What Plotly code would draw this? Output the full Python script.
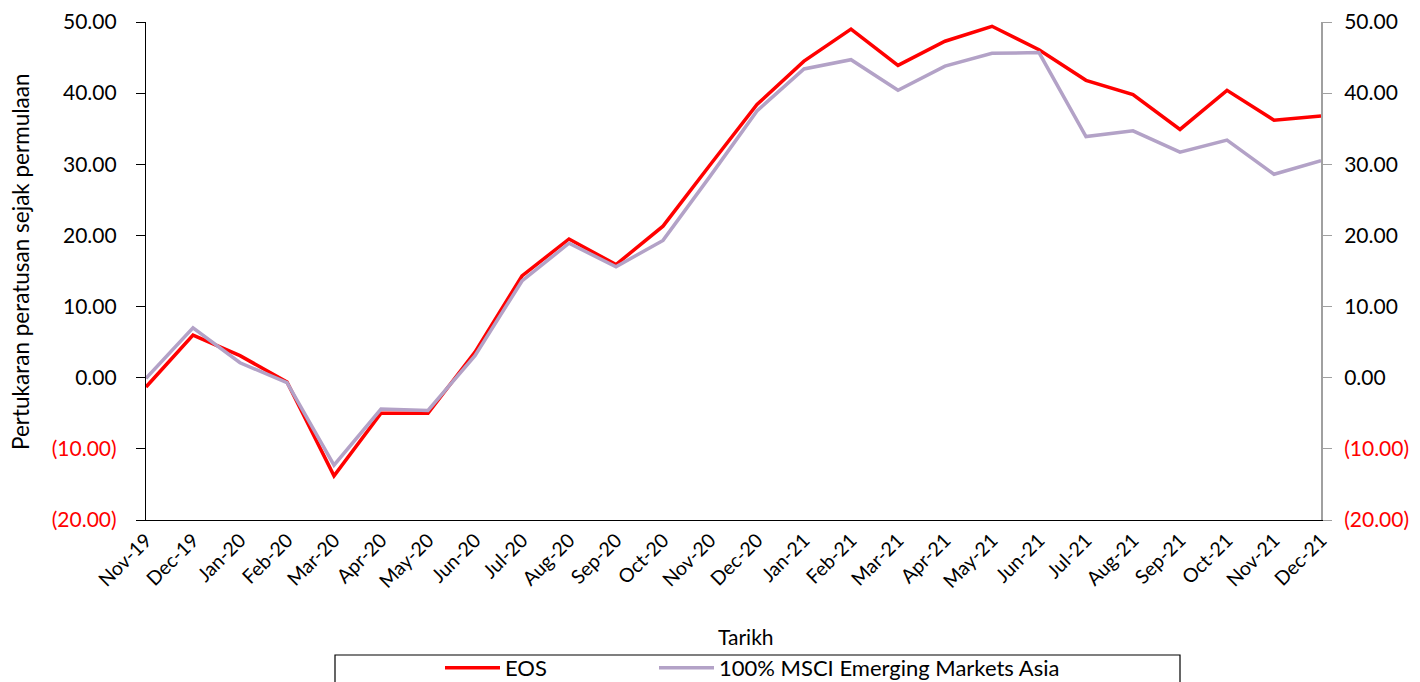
import plotly.graph_objects as go

months = ["Nov-19", "Dec-19", "Jan-20", "Feb-20", "Mar-20", "Apr-20", "May-20", "Jun-20",
          "Jul-20", "Aug-20", "Sep-20", "Oct-20", "Nov-20", "Dec-20", "Jan-21", "Feb-21",
          "Mar-21", "Apr-21", "May-21", "Jun-21", "Jul-21", "Aug-21", "Sep-21", "Oct-21",
          "Nov-21", "Dec-21"]
eos = [-1.3, 6.0, 3.1, -0.6, -13.8, -5.0, -5.0, 3.6, 14.3, 19.5, 15.9, 21.3, 29.9, 38.4,
       44.5, 49.0, 43.9, 47.3, 49.4, 46.1, 41.8, 39.8, 34.9, 40.4, 36.2, 36.8]
msci = [-0.1, 7.0, 2.1, -0.7, -12.3, -4.4, -4.6, 3.1, 13.6, 18.9, 15.6, 19.3, 28.3, 37.5,
        43.4, 44.7, 40.4, 43.8, 45.6, 45.7, 33.9, 34.7, 31.7, 33.4, 28.6, 30.5]
tick_vals = [-20, -10, 0, 10, 20, 30, 40, 50]
tick_text = ["<span style='color:#FF0000'>(20.00)</span>", "<span style='color:#FF0000'>(10.00)</span>",
             "0.00", "10.00", "20.00", "30.00", "40.00", "50.00"]

FONT = "Lato"
OFF = 8  # page body margin offset
W, H = 1420 - OFF, 682 - OFF
L, R, T, B = 146 - OFF, 99, 22 - OFF, 162
pw, ph = W - L - R, H - T - B


def px_x(p):
    return (p - OFF - L) / pw


def px_y(p):
    return (H - B - (p - OFF)) / ph


fig = go.Figure()
fig.add_trace(go.Scatter(x=months, y=eos, name="EOS", mode="lines",
                         line=dict(color="#FF0000", width=3.5), legend="legend"))
fig.add_trace(go.Scatter(x=months, y=msci, name="100% MSCI Emerging Markets Asia", mode="lines",
                         line=dict(color="#B3A2C7", width=3.5), yaxis="y2", legend="legend2"))

legend_common = dict(orientation="h", yanchor="middle", y=px_y(668), xanchor="left",
                     font=dict(family=FONT, size=22, color="#000000"),
                     bgcolor="rgba(0,0,0,0)", itemwidth=55)

fig.update_layout(
    width=W, height=H,
    margin=dict(l=L, r=R, t=T, b=B, autoexpand=False),
    paper_bgcolor="white", plot_bgcolor="white",
    font=dict(family=FONT, size=20, color="#000000"),
    showlegend=True,
    legend=dict(x=px_x(440), **legend_common),
    legend2=dict(x=px_x(654), **legend_common),
    xaxis=dict(type="category", range=[0, len(months) - 1], showgrid=False,
               showline=True, linecolor="#000000", linewidth=1.3,
               ticks="", tickangle=-45, tickfont=dict(family=FONT, size=19.5),
               zeroline=False),
    yaxis=dict(range=[-20, 50], tickvals=tick_vals, ticktext=tick_text, showgrid=False,
               showline=True, linecolor="#000000", linewidth=1.3, ticks="outside",
               ticklen=9, tickcolor="#000000", tickfont=dict(family=FONT, size=21),
               ticklabelstandoff=15, zeroline=False),
    yaxis2=dict(range=[-20, 50], tickvals=tick_vals, ticktext=tick_text, overlaying="y",
                side="right", showgrid=False, showline=True, linecolor="#A0A0A0",
                linewidth=2, ticks="outside", ticklen=9, tickcolor="#A0A0A0",
                tickfont=dict(family=FONT, size=21), ticklabelstandoff=8, zeroline=False),
    shapes=[dict(type="rect", xref="paper", yref="paper",
                 x0=px_x(335), x1=px_x(1180), y0=px_y(700), y1=px_y(655),
                 line=dict(color="#000000", width=1.2), fillcolor="rgba(0,0,0,0)")],
    annotations=[
        dict(text="Tarikh", xref="paper", yref="paper", x=px_x(746), y=px_y(636),
             xanchor="center", yanchor="middle", showarrow=False,
             font=dict(family=FONT, size=21)),
        dict(text="Pertukaran peratusan sejak permulaan", xref="paper", yref="paper",
             x=px_x(20), y=px_y(262), xanchor="center", yanchor="middle", textangle=-90,
             showarrow=False, font=dict(family=FONT, size=22.5)),
    ],
)

fig.write_html("out.html")
